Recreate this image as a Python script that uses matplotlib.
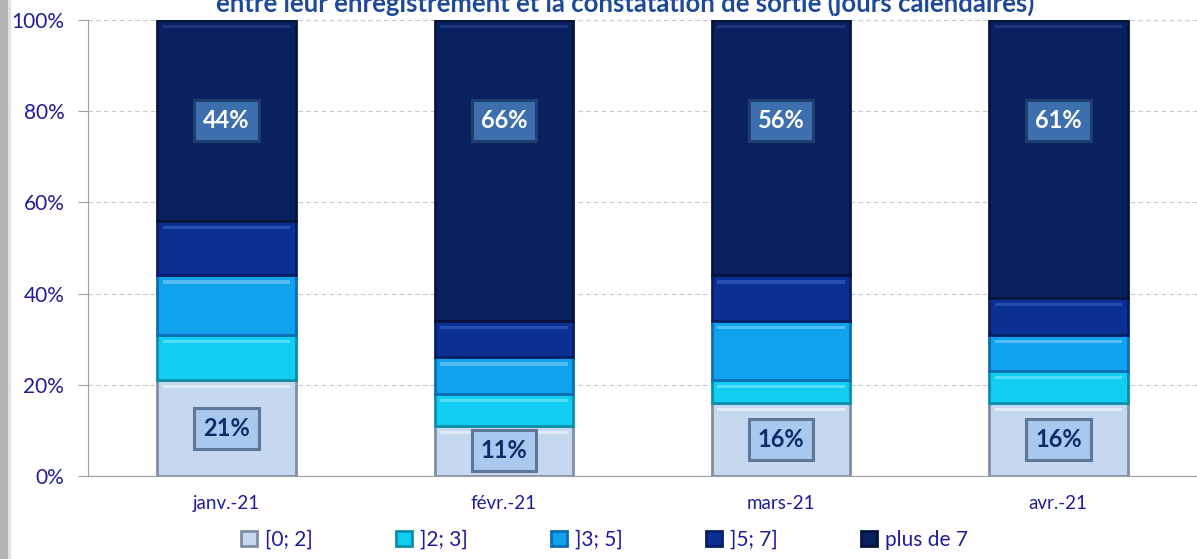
import matplotlib.pyplot as plt
from matplotlib.patches import Rectangle
import numpy as np

plt.rcParams['font.family'] = ['Lato', 'DejaVu Sans']

# Data (share of items, %)
months = ['janv.-21', 'févr.-21', 'mars-21', 'avr.-21']
classes = ['[0; 2]', ']2; 3]', ']3; 5]', ']5; 7]', 'plus de 7']
s_0_2 = [21, 11, 16, 16]
s_2_3 = [10, 7, 5, 7]
s_3_5 = [13, 8, 13, 8]
s_5_7 = [12, 8, 10, 8]
s_7p = [44, 66, 56, 61]
title = "entre leur enregistrement et la constatation de sortie (jours calendaires)"

series = [s_0_2, s_2_3, s_3_5, s_5_7, s_7p]
colors = ['#C6D8F0', '#12CDF2', '#11A2EE', '#0B2F93', '#0A215F']
edges = ['#7F8FA6', '#0A8FA8', '#0A6FB0', '#061E66', '#06143D']
highlights = ['#F2F7FF', '#7FE8FA', '#7FCFF8', '#3A66C8', '#2A4690']

fig = plt.figure(figsize=(11.97, 5.59), dpi=100)
ax = fig.add_axes([0.0735, 0.1485, 0.9265, 0.8155])

x = np.arange(len(months))
width = 0.5
bottom = np.zeros(len(months))
for vals, c, ec, hl, lab in zip(series, colors, edges, highlights, classes):
    v = np.array(vals, dtype=float)
    ax.bar(x, v, width, bottom=bottom, color=c, edgecolor=ec, linewidth=2.0,
           label=lab, zorder=3)
    # bevel highlight along top of each segment
    ax.bar(x, np.full(len(x), 0.7), width * 0.92, bottom=bottom + v - 1.8,
           color=hl, alpha=0.6, linewidth=0, zorder=4)
    bottom += v

# labels for first and last class
def boxed(xp, yp, txt, fc, tc, ec):
    ax.text(xp, yp, txt, ha='center', va='center', fontsize=17, fontweight='bold',
            color=tc, zorder=6,
            bbox=dict(boxstyle='square,pad=0.38', fc=fc, ec=ec, lw=2.2))

for i in range(len(months)):
    boxed(x[i], s_0_2[i] / 2, f'{s_0_2[i]}%', '#A9C8EE', '#0F2A6B', '#5F7898')
    boxed(x[i], 78, f'{s_7p[i]}%', '#3D6FAE', 'white', '#1F3F70')

ax.set_xlim(-0.5, 3.5)
ax.set_ylim(0, 100)
ax.set_yticks(np.arange(0, 101, 20))
ax.set_yticklabels([f'{t}%' for t in range(0, 101, 20)])
ax.set_xticks(x)
ax.set_xticklabels(months)
ax.tick_params(axis='y', colors='#A0A0A0', labelcolor='#1E1E96', labelsize=15,
               length=7, pad=10)
ax.tick_params(axis='x', length=0, labelcolor='#1E1E96', labelsize=13.5, pad=14)
ax.yaxis.grid(True, linestyle=(0, (4, 3)), color='#C8C8C8', linewidth=0.8, zorder=0)
for s in ['top', 'right']:
    ax.spines[s].set_visible(False)
ax.spines['left'].set_color('#A0A0A0')
ax.spines['bottom'].set_color('#A0A0A0')

leg = fig.legend(loc='center', bbox_to_anchor=(0.505, 0.034), ncol=5, frameon=False,
                 fontsize=15, handlelength=0.75, handleheight=0.75, columnspacing=4.0,
                 handletextpad=0.4)
for t in leg.get_texts():
    t.set_color('#1E1E96')

# title is partly cut off at the top edge, as in the source image
fig.text(0.522, 1 - 3 / 559, title, ha='center', va='center', fontsize=18.5,
         fontweight='bold', color='#1F4A99')

# grey frame strip on left
fig.add_artist(Rectangle((0, 0), 8 / 1197, 1, transform=fig.transFigure,
                         color='#B4B4B4', lw=0))
fig.add_artist(Rectangle((8 / 1197, 0), 3 / 1197, 1, transform=fig.transFigure,
                         color='#E0E0E0', lw=0))

fig.savefig('out.png', dpi=100)
